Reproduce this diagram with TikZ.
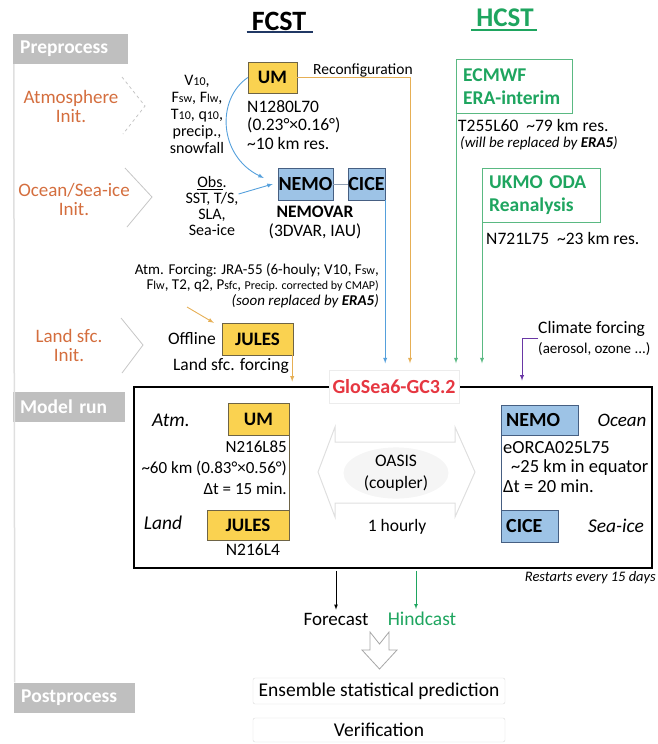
\documentclass[tikz,border=0pt]{standalone}
\usepackage{fontspec}
\setmainfont{Carlito}
\usetikzlibrary{shapes,arrows,calc,positioning}
\usepackage{xcolor}
\definecolor{grpc}{RGB}{191,191,191}
\definecolor{initc}{RGB}{212,110,62}
\definecolor{yfill}{RGB}{250,210,80}
\definecolor{ydraw}{RGB}{110,100,70}
\definecolor{bfill}{RGB}{157,195,230}
\definecolor{bdraw}{RGB}{70,95,130}
\definecolor{hcstc}{RGB}{30,165,95}
\definecolor{hline}{RGB}{90,185,130}
\definecolor{fcstc}{RGB}{32,56,100}
\definecolor{blarc}{RGB}{85,160,220}
\definecolor{tanc}{RGB}{230,175,85}
\definecolor{purc}{RGB}{105,55,165}
\definecolor{glsc}{RGB}{230,55,65}
\newcommand\smtxt[1]{{\fontsize{12}{12}\selectfont #1}}
\newcommand\fsz[2]{\fontsize{#1}{#2}\selectfont}
\tikzset{
  grp/.style={fill=grpc, text=white, font=\fsz{19.5}{21}\bfseries, align=left, inner xsep=7pt, inner ysep=0pt, minimum height=30pt, anchor=west},
  init/.style={text=initc, align=center, font=\fsz{19}{19}},
  chev/.style={draw=gray!45, line width=0.8pt},
  txt/.style={font=\fsz{17.5}{19}, inner sep=0pt},
  ybox/.style={draw=ydraw, fill=yfill, font=\fsz{19}{21}\bfseries, inner sep=0pt, minimum height=31pt},
  bbox/.style={draw=bdraw, fill=bfill, font=\fsz{20}{21}\bfseries, inner sep=0pt, minimum height=32pt},
  gbox/.style={draw=hline, text=hcstc, font=\fsz{19.5}{23}\bfseries, align=left, inner xsep=7pt, inner ysep=0pt, minimum height=54pt, anchor=north west},
  feed/.style={line width=0.9pt, -latex},
  outbox/.style={draw=gray!30, rounded corners=2pt, minimum width=252pt, inner sep=0pt, font=\fsz{19.5}{21}}
}
\begin{document}
\begin{tikzpicture}[x=1pt,y=-1pt]
\useasboundingbox (0,0) rectangle (658,744);
\node[font=\fsz{28}{30}\bfseries, inner sep=0pt] (ttlf) at (279,21) {FCST};
\draw[fcstc, line width=2pt] (ttlf.south west) ++(-5,2) -- ++(66,0);
\node[font=\fsz{27}{30}\bfseries, inner sep=0pt, text=hcstc] (ttlh) at (505,18) {HCST};
\draw[hcstc, line width=2pt] (ttlh.south west) ++(-5,3) -- ++(66,0);

\node[grp, text width=101pt] (pre) at (13,49) {Preprocess};
\node[grp, text width=98pt] (mrun) at (13,406.5) {Model run};
\node[grp, text width=107pt] (post) at (14,697.5) {Postprocess};
\draw[gray!25, line width=1.5pt] ([xshift=0.75pt]pre.south west) -- ([xshift=0.75pt]post.north west);

\node[init] (atmi) at (71,106) {Atmosphere\\Init.};
\node[init] (ocni) at (74,199) {Ocean/Sea-ice\\Init.};
\node[init] (lndi) at (69,345) {Land sfc.\\Init.};
\draw[chev, dashed] (122,77) -- (145,106) -- (123,134);
\draw[chev] (125,168) -- (152,197) -- (127,227);
\draw[chev] (121,318) -- (143,345) -- (122,373);

\node[txt, font=\fsz{16}{17}, align=center] (avar) at (197,114) {V\smtxt{10},\\F\smtxt{sw}, F\smtxt{lw},\\T\smtxt{10}, q\smtxt{10},\\precip.,\\snowfall};
\node[ybox, minimum width=49pt] (um1) at (272.5,77.5) {UM};
\node[txt, align=left, anchor=north west, font=\fsz{17.5}{18.5}] (umres) at (247,100) {N1280L70\\(0.23°×0.16°)\\\textasciitilde 10 km res.};
\node[txt, font=\fsz{15.5}{16}, anchor=west] (recf) at (313,70) {Reconfiguration};

\node[bbox, minimum width=55pt] (nemo1) at (305.5,184) {NEMO};
\node[bbox, minimum width=37pt] (cice1) at (366.5,184) {CICE};
\draw[bdraw!60] (nemo1.east) -- (cice1.west);
\node[txt, font=\fsz{16}{16}, align=center] (obs) at (212,206) {\underline{Obs}.\\SST, T/S,\\SLA,\\Sea-ice};
\node[txt, align=center] (nvar) at (315,222) {\textbf{NEMOVAR}\\(3DVAR, IAU)};
\draw[feed, blarc] (um1.west) .. controls +(-32,22) and +(-45,-22) .. ([xshift=-14pt,yshift=6pt]nemo1.west);
\draw[feed, blarc] ([yshift=12pt]obs.east) -- ([xshift=-5pt]nemo1.west);

\node[gbox, text width=102pt] (ecm) at (456,59) {ECMWF\\ERA-interim};
\node[txt, anchor=west] (ecmres) at (458,125) {T255L60\ \ \textasciitilde 79 km res.};
\node[txt, anchor=west, font=\fsz{15}{16}\itshape] (era5) at (460,143) {(will be replaced by \textbf{ERA5})};
\node[gbox, text width=104pt] (ukmo) at (482,168) {UKMO ODA\\Reanalysis};
\node[txt, anchor=west] (ukres) at (486,238) {N721L75\ \ \textasciitilde 23 km res.};

\node[txt, font=\fsz{15}{15.5}, align=right, anchor=north east] (frc) at (379,263) {Atm. Forcing: JRA-55 (6-houly; V10, F\smtxt{sw},\\F\smtxt{lw}, T2, q2, P\smtxt{sfc}, \smtxt{Precip. corrected by CMAP)}\\\itshape (soon replaced by \textbf{ERA5})};
\node[ybox, minimum width=71pt, minimum height=32pt] (jul1) at (257.5,339) {JULES};
\node[txt, anchor=east] (offl) at (216,339) {Offline};
\node[txt] (lsf) at (231,366) {Land sfc. forcing};
\coordinate (frcend) at (187,307);
\draw[feed, tanc] (frcend) -- ([xshift=-8pt]jul1.north west);

\node[draw, line width=2.8pt, minimum width=518pt, minimum height=181pt, inner sep=0pt] (mbox) at (393,477.5) {};
\node[draw=gray!15, fill=white, text=glsc, font=\fsz{20}{21}\bfseries, minimum width=130pt, minimum height=33pt, inner sep=0pt] (gls) at (394,387) {GloSea6-GC3.2};
\coordinate (gtop) at ([yshift=7pt]gls.north);
\draw[feed, tanc] (um1.east) -| ([xshift=16pt]gtop);
\draw[feed, blarc] (cice1.south east) -- (cice1.south east |- gtop);
\draw[feed, hline] (ecm.south west) -- (ecm.south west |- gtop);
\draw[feed, hline] (ukmo.south west) -- (ukmo.south west |- gtop);
\draw[feed, tanc, shorten >=4pt] ([xshift=-1pt]jul1.south east) -- ([xshift=-1pt]jul1.south east |- mbox.north);
\node[txt, anchor=north west, align=left, font=\fsz{17.5}{20}] (clim) at (538,321) {Climate forcing\\{\fsz{15}{16}(aerosol, ozone ...)}};
\draw[feed, purc, shorten >=5pt] (clim.west) -- ++(-16,0) coordinate (clk) -- (clk |- mbox.north);

\node[txt, font=\fsz{19.5}{21}\itshape] (atml) at (171,420) {Atm.};
\node[ybox, minimum width=61pt, minimum height=32pt] (um2) at (258.5,419) {UM};
\node[txt, align=right, anchor=north east, font=\fsz{17}{21}] (umres2) at (287,441) {N216L85\\\textasciitilde 60 km (0.83°×0.56°)\\Δt = 15 min.};
\node[txt, font=\fsz{19.5}{21}\itshape] (lndl) at (163,523) {Land};
\node[ybox, minimum width=82pt, minimum height=30pt] (jul2) at (248,525) {JULES};
\draw[ydraw] (um2.south east) -- (jul2.north east);
\node[txt] (jres2) at (253,550) {N216L4};

\draw[gray!25, line width=1pt] (318,472) -- (335,427) -- (335,442) -- (455,442) -- (455,427) -- (475,472) -- (455,517) -- (455,503) -- (335,503) -- (335,517) -- cycle;
\node[ellipse, fill=gray!8, minimum width=105pt, minimum height=42pt, align=center, font=\fsz{17.5}{22}, inner sep=0pt] (oasis) at (396,473) {OASIS\\(coupler)};
\node[txt] (hrly) at (397,527) {1 hourly};

\node[bbox, anchor=west, minimum width=77pt, text width=67pt, minimum height=30pt, align=left, inner xsep=5pt] (nemo2) at (501,420) {NEMO};
\node[txt, font=\fsz{19}{21}\itshape] (ocl) at (622,420) {Ocean};
\node[txt, align=left, anchor=north west, font=\fsz{18.5}{19.5}] (ores) at (503,441) {eORCA025L75\\\hspace{8pt}\textasciitilde 25 km in equator\\Δt = 20 min.};
\node[bbox, anchor=west, minimum width=57pt, text width=47pt, minimum height=32pt, align=left, inner xsep=5pt] (cice2) at (501,526) {CICE};
\draw[bdraw] (nemo2.south west) -- (cice2.north west);
\node[txt, font=\fsz{19.5}{21}\itshape] (sil) at (616,526) {Sea-ice};
\node[txt, font=\fsz{14.5}{15}\itshape, anchor=east] (rst) at (656,578) {Restarts every 15 days};

\node[txt, font=\fsz{19}{21}] (fcst) at (336,619) {Forecast};
\node[txt, font=\fsz{19.5}{21}, text=hcstc] (hcst) at (422,619) {Hindcast};
\path (fcst.north) ++(0,-3) coordinate (fend);
\path (hcst.north) ++(-6,-3) coordinate (hend);
\draw[-latex, line width=0.7pt, shorten <=1.4pt] (fend |- mbox.south) -- (fend);
\draw[-latex, hcstc, line width=0.7pt, shorten <=1.4pt] (hend |- mbox.south) -- (hend);
\draw[gray!70, line width=0.8pt, fill=white] (370,632) -- (379.5,644) -- (389,632) -- (389,650) -- (397,650) -- (379.5,669) -- (362,650) -- (370,650) -- cycle;
\node[outbox, minimum height=26pt] (ens) at (379,691) {Ensemble statistical prediction};
\node[outbox, minimum height=24pt] (verf) at (379,730) {Verification};
\end{tikzpicture}
\end{document}
